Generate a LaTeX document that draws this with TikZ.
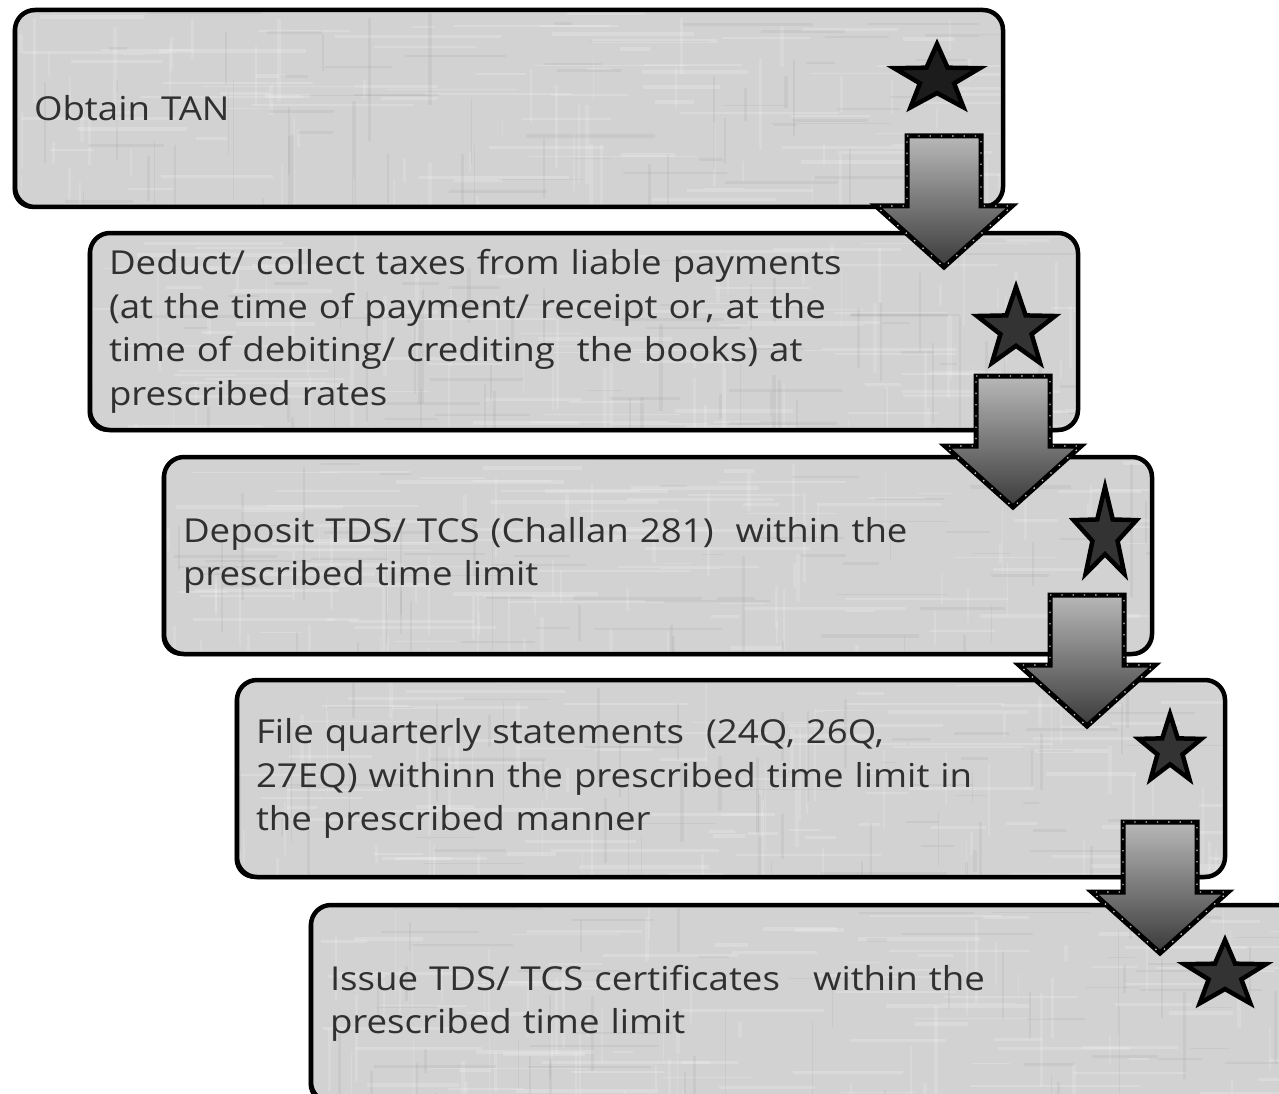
\documentclass[tikz,border=0pt]{standalone}
\usepackage{fontspec}
\setmainfont{Open Sans}[FakeStretch=1.11]
\usetikzlibrary{calc,shadows}

\definecolor{boxgray}{HTML}{D2D2D2}
\definecolor{ink}{HTML}{303030}
\definecolor{starfill}{HTML}{333333}
\definecolor{stardark}{HTML}{1C1C1C}
\definecolor{shaftlight}{HTML}{B8B8B8}
\definecolor{shaftdark}{HTML}{3A3A3A}

\tikzset{
  % faint woven streaks inside each step box
  weave/.style={path picture={
    \foreach \k in {1,...,80}{
      \pgfmathsetmacro\px{rnd*1000}
      \pgfmathsetmacro\py{rnd*200}
      \pgfmathsetmacro\pl{20+rnd*150}
      \pgfmathsetmacro\pw{1+rnd*3}
      \draw[white, opacity=0.18, line width=\pw pt]
        ($(path picture bounding box.north west)+(\px,\py)$) -- ++(\pl,0);
    }
    \foreach \k in {1,...,60}{
      \pgfmathsetmacro\px{rnd*1000}
      \pgfmathsetmacro\py{rnd*200}
      \pgfmathsetmacro\pl{15+rnd*80}
      \pgfmathsetmacro\pw{1+rnd*3}
      \draw[white, opacity=0.15, line width=\pw pt]
        ($(path picture bounding box.north west)+(\px,\py)$) -- ++(0,\pl);
    }
    \foreach \k in {1,...,70}{
      \pgfmathsetmacro\px{rnd*1000}
      \pgfmathsetmacro\py{rnd*200}
      \pgfmathsetmacro\pl{15+rnd*120}
      \pgfmathsetmacro\pw{1+rnd*2.5}
      \pgfmathsetmacro\dir{rnd}
      \draw[black, opacity=0.04, line width=\pw pt]
        ($(path picture bounding box.north west)+(\px,\py)$) -- ++({\dir<0.5 ? \pl : 0},{\dir<0.5 ? 0 : \pl});
    }
  }},
  stepbox/.style={rectangle, rounded corners=20pt, draw=black, line width=4.5pt,
    fill=boxgray, minimum height=197pt, text width=950pt, inner xsep=19pt,
    inner ysep=0pt, align=left, outer sep=0pt, text=ink,
    font=\fontsize{33}{43.5}\selectfont,
    drop shadow={shadow xshift=-2.5pt, shadow yshift=-2pt, fill=black, opacity=1},
    weave},
  starshape/.style={draw=black, line width=4.5pt, line join=miter},
  blockarrow/.style={draw=black, line width=5pt, line join=miter,
    top color=shaftlight, bottom color=shaftdark},
  rivets/.style={draw=gray!35!white, line width=1.3pt, line join=miter,
    dash pattern=on 1.3pt off 10pt},
}

% outline of a downward block arrow hanging from a top-centre point
\newcommand\arrowoutline[1]{($(#1)+(-37,0)$) -- ($(#1)+(37,0)$) -- ($(#1)+(37,70)$)
  -- ($(#1)+(68,70)$) -- ($(#1)+(0,131)$) -- ($(#1)+(-68,70)$) -- ($(#1)+(-37,70)$) -- cycle}
\newcommand\flowarrow[1]{%
  \draw[blockarrow] \arrowoutline{#1};
  \draw[rivets] \arrowoutline{#1};}

% five-pointed star: centre, horizontal radius, vertical radius, fill
\newcommand\markstar[4]{%
  \begin{scope}[shift={(#1)}, xscale=#2, yscale=#3]
    \draw[starshape, fill=#4] (270:1)
      \foreach \a/\r in {306/0.4,342/1,18/0.4,54/1,90/0.4,126/1,162/0.4,198/1,234/0.4}{ -- (\a:\r) }
      -- cycle;
  \end{scope}}

\begin{document}
\begin{tikzpicture}[x=1pt, y=-1pt]
  \pgfmathsetseed{42}
  \useasboundingbox (0,0) rectangle (1279,1094);
  \clip (0,0) rectangle (1279,1094);
  \fill[white] (0,0) rectangle (1279,1094);

  % steps
  \node[stepbox, anchor=north west] (b1) at (15,10) {Obtain TAN};
  \node[stepbox, anchor=north west] (b2) at (90,233)
    {Deduct/ collect taxes from liable payments\\
     (at the time of payment/ receipt or, at the\\
     time of debiting/ crediting\ \ the books) at\\
     prescribed rates};
  \node[stepbox, anchor=north west] (b3) at (164,457)
    {Deposit TDS/ TCS (Challan 281)\ \ within the\\
     prescribed time limit};
  \node[stepbox, anchor=north west] (b4) at (237,680)
    {File quarterly statements\ \ (24Q, 26Q,\\
     27EQ) withinn the prescribed time limit in\\
     the prescribed manner};
  \node[stepbox, anchor=north west] (b5) at (311,905)
    {Issue TDS/ TCS certificates\ \ \ within the\\
     prescribed time limit};

  % stars at the right of each step
  \coordinate (s1) at (937,79);
  \coordinate (s2) at (1016,329);
  \coordinate (s3) at (1105,535);
  \coordinate (s4) at (1170,750);
  \coordinate (s5) at (1225,975);
  \markstar{s1}{45}{35}{stardark}
  \markstar{s2}{41}{42}{starfill}
  \markstar{s3}{33}{48}{starfill}
  \markstar{s4}{33}{36}{starfill}
  \markstar{s5}{43}{35}{starfill}

  % arrows leading from each step to the next
  \coordinate (a1) at ($(b1.south east)+(-59,-71)$);
  \coordinate (a2) at ($(b2.south east)+(-65,-54)$);
  \coordinate (a3) at ($(b3.south east)+(-65,-59)$);
  \coordinate (a4) at ($(b4.south east)+(-65,-55)$);
  \flowarrow{a1}
  \flowarrow{a2}
  \flowarrow{a3}
  \flowarrow{a4}
\end{tikzpicture}
\end{document}
